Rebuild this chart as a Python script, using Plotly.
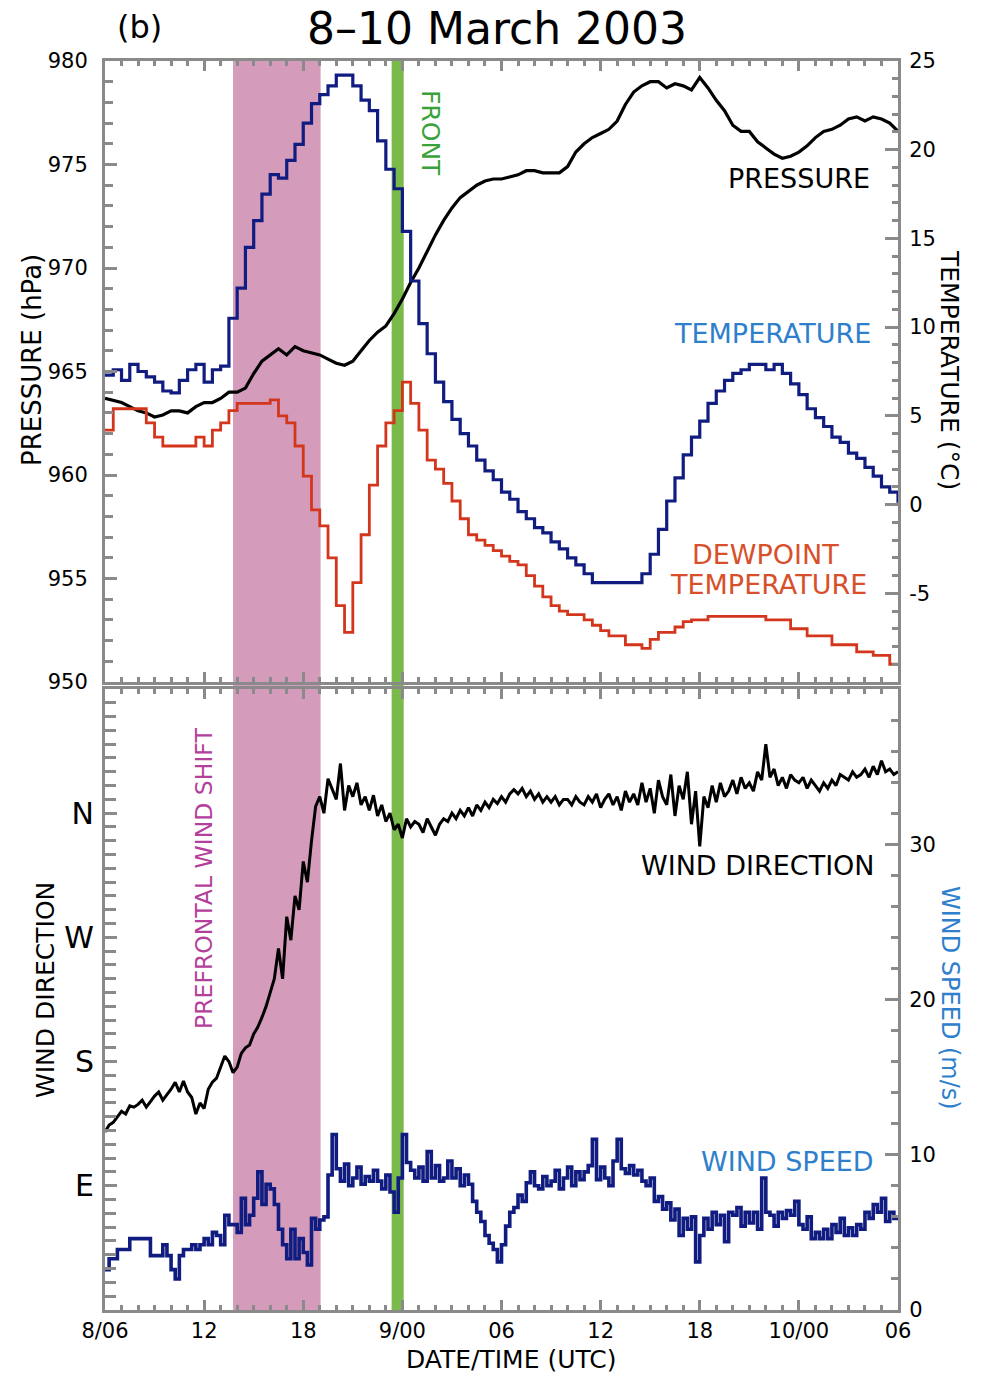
import numpy as np
import plotly.graph_objects as go

# ---------------- data (hours since 8 March 00 UTC) ----------------
HOURS_HALF = np.arange(6.0, 54.001, 0.5)      # 97 samples
HOURS_QUARTER = np.arange(6.0, 54.001, 0.25)  # 193 samples

pressure_hpa = [
    963.7, 963.6, 963.5, 963.3, 963.1, 963.0, 962.8, 962.9, 963.1, 963.1,
    963.0, 963.3, 963.5, 963.5, 963.7, 964.0, 964.0, 964.2, 964.9, 965.5,
    965.8, 966.1, 965.8, 966.2, 966.0, 965.9, 965.8, 965.6, 965.4, 965.3,
    965.5, 966.0, 966.5, 966.9, 967.2, 967.8, 968.5, 969.3, 970.0, 970.8,
    971.6, 972.3, 972.9, 973.4, 973.7, 974.0, 974.2, 974.3, 974.3, 974.4,
    974.5, 974.7, 974.7, 974.6, 974.6, 974.6, 974.9, 975.6, 976.0, 976.3,
    976.5, 976.7, 977.1, 977.9, 978.5, 978.8, 979.0, 979.0, 978.7, 978.9,
    978.8, 978.6, 979.2, 978.7, 978.1, 977.6, 976.9, 976.6, 976.6, 976.1,
    975.8, 975.5, 975.3, 975.4, 975.6, 975.9, 976.3, 976.6, 976.7, 976.9,
    977.2, 977.3, 977.1, 977.3, 977.2, 977.0, 976.6,
]

temperature_c = [
    7.3, 7.6, 7.0, 7.9, 7.5, 7.2, 6.9, 6.4, 6.3, 7.0,
    7.6, 7.9, 6.9, 7.6, 7.8, 10.5, 12.2, 14.5, 16.0, 17.5,
    18.6, 18.4, 19.4, 20.3, 21.5, 22.6, 23.1, 23.6, 24.2, 24.2,
    23.6, 22.8, 22.2, 20.5, 18.9, 17.8, 15.4, 12.6, 10.2, 8.5,
    6.9, 5.8, 4.8, 4.0, 3.3, 2.5, 1.9, 1.4, 0.7, 0.3,
    -0.4, -0.8, -1.3, -1.6, -2.1, -2.5, -3.0, -3.4, -3.9, -4.4,
    -4.4, -4.4, -4.4, -4.4, -4.4, -3.9, -2.8, -1.4, 0.2, 1.5,
    2.8, 3.8, 4.7, 5.7, 6.4, 7.0, 7.4, 7.6, 7.9, 7.9,
    7.6, 7.9, 7.4, 6.8, 6.2, 5.4, 4.9, 4.4, 3.8, 3.5,
    2.9, 2.6, 2.1, 1.6, 1.0, 0.7, 0.1,
]

dewpoint_c = [
    4.2, 5.4, 5.4, 5.4, 5.4, 4.6, 3.8, 3.3, 3.3, 3.3,
    3.3, 3.8, 3.3, 4.2, 4.6, 5.3, 5.7, 5.7, 5.7, 5.7,
    5.9, 5.0, 4.6, 3.3, 1.6, -0.3, -1.2, -3.0, -5.7, -7.2,
    -4.4, -1.7, 1.1, 3.3, 4.6, 5.3, 6.9, 5.7, 4.2, 2.5,
    2.0, 1.2, 0.2, -0.8, -1.7, -2.0, -2.3, -2.6, -2.9, -3.2,
    -3.4, -4.0, -4.6, -5.2, -5.7, -6.0, -6.2, -6.2, -6.5, -6.8,
    -7.1, -7.4, -7.4, -7.9, -7.9, -8.1, -7.6, -7.2, -7.2, -6.9,
    -6.6, -6.5, -6.5, -6.3, -6.3, -6.3, -6.3, -6.3, -6.3, -6.3,
    -6.5, -6.5, -6.5, -7.0, -7.0, -7.4, -7.4, -7.4, -7.9, -7.9,
    -7.9, -8.3, -8.3, -8.5, -8.5, -9.0, -9.0,
]

wind_direction_deg = [
    129, 134, 136, 140, 144, 142, 148, 147, 149, 152, 147, 151,
    155, 158, 152, 156, 160, 165, 158, 166, 158, 154, 142, 150,
    146, 160, 165, 168, 176, 184, 180, 172, 176, 186, 190, 192,
    200, 205, 212, 220, 230, 240, 262, 240, 285, 268, 300, 290,
    325, 310, 340, 365, 372, 360, 385, 378, 370, 396, 362, 380,
    372, 382, 366, 372, 362, 373, 358, 366, 354, 360, 348, 352,
    342, 356, 350, 354, 352, 346, 356, 350, 344, 352, 356, 354,
    360, 356, 362, 358, 364, 358, 366, 362, 368, 364, 370, 367,
    372, 368, 374, 377, 374, 378, 372, 376, 370, 374, 368, 372,
    368, 372, 366, 370, 370, 366, 372, 368, 366, 372, 368, 374,
    364, 370, 374, 366, 372, 362, 376, 368, 374, 366, 382, 368,
    378, 360, 384, 372, 366, 388, 358, 380, 370, 390, 352, 376,
    336, 372, 364, 380, 368, 382, 372, 376, 384, 374, 386, 378,
    382, 376, 390, 384, 410, 386, 392, 380, 386, 378, 388, 384,
    382, 386, 378, 384, 380, 376, 382, 378, 384, 380, 388, 386,
    384, 390, 386, 388, 392, 386, 394, 388, 398, 390, 392, 388,
    390,
]

wind_speed_ms = [
    2.6, 3.3, 3.3, 3.9, 3.9, 3.9, 4.6, 4.6, 4.6, 4.6, 4.6, 3.5,
    3.5, 3.5, 4.2, 3.5, 2.6, 2.0, 3.5, 3.9, 3.9, 4.2, 3.9, 4.2,
    4.6, 4.2, 5.0, 4.8, 4.2, 6.1, 5.5, 5.5, 5.0, 7.2, 5.5, 6.1,
    7.2, 8.9, 6.8, 8.1, 7.8, 6.8, 5.2, 4.2, 3.3, 5.2, 3.3, 4.6,
    3.7, 2.9, 5.9, 5.2, 5.8, 6.0, 8.7, 11.3, 9.1, 8.3, 9.4, 8.0,
    8.5, 9.2, 8.1, 8.6, 8.3, 9.0, 8.3, 7.8, 8.7, 7.6, 6.3, 8.5,
    11.3, 9.5, 9.0, 8.5, 9.2, 8.3, 10.2, 8.5, 9.3, 8.3, 8.5, 9.6,
    8.5, 9.1, 8.0, 8.7, 8.1, 7.0, 6.3, 5.7, 4.8, 4.3, 3.9, 3.1,
    4.2, 5.4, 6.3, 6.6, 7.4, 7.0, 8.2, 8.9, 8.0, 7.8, 8.6, 8.0,
    8.3, 9.0, 7.8, 8.5, 9.2, 8.0, 8.9, 8.4, 8.9, 9.3, 11.0, 8.4,
    9.2, 8.5, 8.0, 9.6, 11.0, 9.1, 8.8, 9.3, 8.7, 9.0, 8.3, 8.0,
    8.5, 7.0, 7.3, 6.5, 6.9, 5.8, 6.5, 4.8, 5.9, 5.2, 6.0, 3.1,
    4.8, 5.9, 5.2, 6.3, 5.5, 6.1, 4.4, 6.3, 6.1, 6.6, 5.4, 6.3,
    5.6, 6.3, 5.2, 8.5, 6.3, 6.1, 5.4, 6.3, 5.9, 6.4, 6.1, 7.0,
    5.5, 5.2, 6.0, 4.6, 5.0, 4.6, 5.2, 4.6, 5.5, 5.0, 5.9, 4.8,
    5.3, 4.8, 5.5, 5.2, 6.3, 5.9, 6.8, 6.3, 7.2, 5.7, 6.3, 5.9,
    5.9,
]

x_tick_hours = [6, 12, 18, 24, 30, 36, 42, 48, 54]
x_tick_labels = ["8/06", "12", "18", "9/00", "06", "12", "18", "10/00", "06"]
pressure_ticks = [950, 955, 960, 965, 970, 975, 980]
temperature_ticks = [-5, 0, 5, 10, 15, 20, 25]
direction_ticks = [90, 180, 270, 360]
direction_labels = ["E", "S", "W", "N"]
speed_ticks = [0, 10, 20, 30]

prefrontal_window = (13.75, 19.05)
front_window = (23.35, 24.08)

# ---------------- style ----------------
FONT = "DejaVu Sans"
AX = "#8a8a8a"
NAVY = "#101c80"
RED = "#d3361c"
PINK = "#d49bbb"
GREEN = "#7aba4a"
LBLUE = "#2f80cc"

fig = go.Figure()
fig.add_trace(go.Scatter(x=HOURS_HALF, y=pressure_hpa, mode="lines",
                         line=dict(color="black", width=3.2), xaxis="x", yaxis="y"))
fig.add_trace(go.Scatter(x=HOURS_HALF, y=dewpoint_c, mode="lines",
                         line=dict(color=RED, width=2.8, shape="hv"), xaxis="x", yaxis="y2"))
fig.add_trace(go.Scatter(x=HOURS_HALF, y=temperature_c, mode="lines",
                         line=dict(color=NAVY, width=3.2, shape="hv"), xaxis="x", yaxis="y2"))
fig.add_trace(go.Scatter(x=HOURS_QUARTER, y=wind_direction_deg, mode="lines",
                         line=dict(color="black", width=3), xaxis="x2", yaxis="y3"))
fig.add_trace(go.Scatter(x=HOURS_QUARTER, y=wind_speed_ms, mode="lines",
                         line=dict(color=NAVY, width=3.6, shape="hv"), xaxis="x2", yaxis="y4"))

TOP_DOM = [0.5028, 1.0]
BOT_DOM = [0.0, 0.4972]

def xaxis(anchor, labels):
    return dict(
        domain=[0, 1], anchor=anchor, range=[6, 54],
        showline=True, linecolor=AX, linewidth=3, mirror="ticks",
        ticks="inside", ticklen=10, tickwidth=2.5, tickcolor=AX,
        tickmode="array", tickvals=x_tick_hours, ticktext=x_tick_labels,
        showticklabels=labels, showgrid=False, zeroline=False,
        tickfont=dict(family=FONT, size=21, color="black"),
        minor=dict(tickmode="linear", tick0=6, dtick=1, ticks="inside",
                   ticklen=5, tickwidth=2.5, tickcolor=AX, showgrid=False),
    )

def yaxis(dom, rng, vals, texts, side, minor_dtick, minor_tick0, fontsize,
          overlay=None, standoff=8, anchor=None, mlen=8, majlen=12):
    d = dict(
        range=rng, side=side, showline=True, linecolor=AX, linewidth=3,
        ticks="inside", ticklen=majlen, tickwidth=2.5, tickcolor=AX,
        tickmode="array", tickvals=vals, ticktext=texts,
        showgrid=False, zeroline=False, ticklabelstandoff=standoff,
        tickfont=dict(family=FONT, size=fontsize, color="black"),
        minor=dict(tickmode="linear", tick0=minor_tick0, dtick=minor_dtick,
                   ticks="inside", ticklen=mlen, tickwidth=2.5, tickcolor=AX,
                   showgrid=False),
    )
    if overlay:
        d["overlaying"] = overlay
        d["anchor"] = anchor
    else:
        d["domain"] = dom
        d["anchor"] = anchor
    return d

fig.update_layout(
    width=986, height=1374,
    margin=dict(l=105, r=88, t=61, b=64),
    paper_bgcolor="white", plot_bgcolor="rgba(0,0,0,0)",
    showlegend=False,
    font=dict(family=FONT, color="black"),
    xaxis=xaxis("y", False),
    xaxis2=xaxis("y3", True),
    yaxis=yaxis(TOP_DOM, [950, 980], pressure_ticks, [str(v) for v in pressure_ticks],
                "left", 1, 950, 21, standoff=10, anchor="x"),
    yaxis2=yaxis(None, [-10, 25], temperature_ticks, [str(v) for v in temperature_ticks],
                 "right", 1, -10, 21, overlay="y", standoff=4, anchor="x", mlen=6, majlen=13),
    yaxis3=yaxis(BOT_DOM, [0, 450], direction_ticks, direction_labels,
                 "left", 10, 0, 30, standoff=2, anchor="x2", mlen=11, majlen=12),
    yaxis4=yaxis(None, [0, 40], speed_ticks, [str(v) for v in speed_ticks],
                 "right", 2, 0, 21, overlay="y3", standoff=4, anchor="x2", mlen=7, majlen=13),
)

# shaded periods (span both panels)
fig.add_shape(type="rect", xref="x", yref="paper",
              x0=prefrontal_window[0], x1=prefrontal_window[1], y0=0, y1=1,
              fillcolor=PINK, line=dict(width=0), layer="below")
fig.add_shape(type="rect", xref="x", yref="paper",
              x0=front_window[0], x1=front_window[1], y0=0, y1=1,
              fillcolor=GREEN, line=dict(width=0), layer="below")

def ann(text, x, y, size, color="black", angle=0, xanchor="center", yanchor="middle"):
    fig.add_annotation(text=text, x=x, y=y, xref="paper", yref="paper",
                       showarrow=False, textangle=angle, xanchor=xanchor, yanchor=yanchor,
                       font=dict(family=FONT, size=size, color=color))

ann("(b)", 0.0441, 1.0272, 32)
ann("8\u201310 March 2003", 0.4943, 1.0264, 44)
ann("PRESSURE", 0.9672, 0.9063, 27, xanchor="right")
ann("TEMPERATURE", 0.9685, 0.7822, 27, color=LBLUE, xanchor="right")
ann("DEWPOINT", 0.8335, 0.6045, 27, color="#d8502a")
ann("TEMPERATURE", 0.8373, 0.5805, 27, color="#d8502a")
ann("FRONT", 0.4098, 0.9424, 25, color="#3aa23a", angle=90)
ann("PREFRONTAL WIND SHIFT", 0.1248, 0.3459, 23.5, color="#b3409a", angle=-90)
ann("WIND DIRECTION", 0.9735, 0.3555, 27, xanchor="right")
ann("WIND SPEED", 0.9723, 0.1185, 27, color=LBLUE, xanchor="right")
ann("PRESSURE (hPa)", -0.0921, 0.7606, 26, angle=-90)
ann("TEMPERATURE (\u00b0C)", 1.0656, 0.7526, 25, angle=90)
ann("WIND DIRECTION", -0.0757, 0.2562, 25, angle=-90)
ann("WIND SPEED (m/s)", 1.0656, 0.2498, 24, color=LBLUE, angle=90)
ann("DATE/TIME (UTC)", 0.5132, -0.0400, 25)

fig.write_html("out.html")
